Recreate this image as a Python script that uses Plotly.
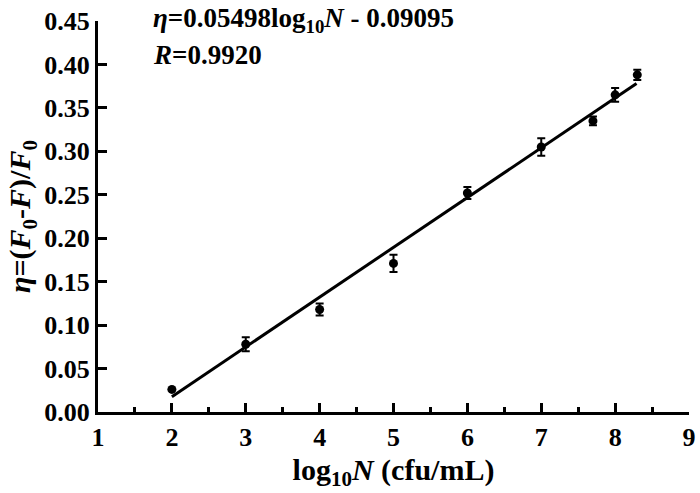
import plotly.graph_objects as go

# Data
log_n = [2, 3, 4, 5, 6, 7, 7.7, 8, 8.3]
eta = [0.026, 0.078, 0.118, 0.171, 0.252, 0.305, 0.335, 0.365, 0.388]
eta_err = [0.0, 0.008, 0.007, 0.010, 0.007, 0.010, 0.005, 0.008, 0.006]

fit_x = [2.0, 8.29]
fit_y = [0.0176, 0.378]

x_ticks = [1, 2, 3, 4, 5, 6, 7, 8, 9]
y_ticks = [0.00, 0.05, 0.10, 0.15, 0.20, 0.25, 0.30, 0.35, 0.40, 0.45]

FONT = "Liberation Serif"

fig = go.Figure()
fig.add_trace(go.Scatter(
    x=fit_x, y=fit_y, mode="lines",
    line=dict(color="black", width=3), showlegend=False, hoverinfo="skip"))
fig.add_trace(go.Scatter(
    x=log_n, y=eta, mode="markers",
    marker=dict(color="black", size=9, symbol="circle"),
    error_y=dict(type="data", array=eta_err, visible=True,
                 color="black", thickness=2, width=4),
    showlegend=False))

fig.add_annotation(
    x=0.09, y=1.003, xref="paper", yref="paper", xanchor="left", yanchor="middle",
    text="<b><i>η</i>=0.05498log<sub>10</sub><i>N</i> - 0.09095</b>",
    showarrow=False, font=dict(family=FONT, size=27, color="black"))
fig.add_annotation(
    x=0.09, y=0.913, xref="paper", yref="paper", xanchor="left", yanchor="middle",
    text="<b><i>R</i>=0.9920</b>",
    showarrow=False, font=dict(family=FONT, size=27, color="black"))

fig.update_xaxes(
    range=[1, 9], tickvals=x_ticks, ticktext=[f"<b>{v}</b>" for v in x_ticks],
    ticks="inside", ticklen=9, tickwidth=3, tickcolor="black",
    minor=dict(ticks="inside", dtick=0.5, tick0=1, ticklen=5, tickwidth=3, tickcolor="black"),
    showline=True, linewidth=3, linecolor="black", mirror=False,
    showgrid=False, zeroline=False, automargin=False,
    tickfont=dict(family=FONT, size=26, color="black"),
    title=dict(text="<b>log<sub>10</sub><i>N</i> (cfu/mL)</b>",
               font=dict(family=FONT, size=30, color="black"), standoff=8),
)
fig.update_yaxes(
    range=[0, 0.45], tickvals=y_ticks, ticktext=[f"<b>{v:.2f}</b>" for v in y_ticks],
    ticks="inside", ticklen=9, tickwidth=3, tickcolor="black",
    showline=True, linewidth=3, linecolor="black", mirror=False,
    showgrid=False, zeroline=False, automargin=False,
    tickfont=dict(family=FONT, size=26, color="black"),
    title=dict(text="<b><i>η</i>=(<i>F</i><sub>0</sub>-<i>F</i>)/<i>F</i><sub>0</sub></b>",
               font=dict(family=FONT, size=30, color="black"), standoff=5),
)

fig.update_layout(
    width=700, height=493,
    margin=dict(l=98, r=11, t=21, b=81),
    plot_bgcolor="white", paper_bgcolor="white",
)

fig.write_html(
    "out.html",
    config={"displayModeBar": False},
    post_script="document.body.style.margin='0';document.body.style.overflow='hidden';",
)
